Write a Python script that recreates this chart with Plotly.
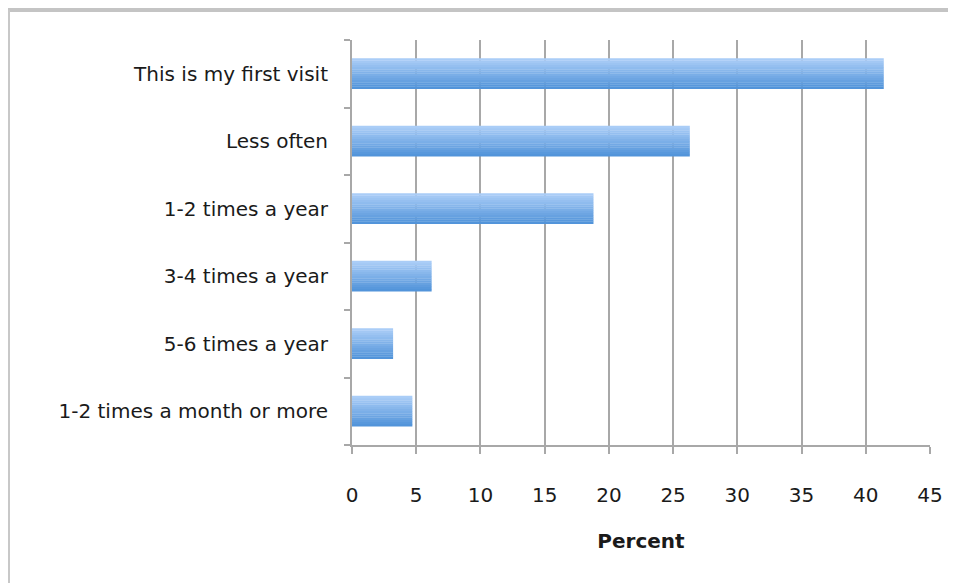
import plotly.graph_objects as go

# Data (bottom to top)
categories = ["1-2 times a month or more", "5-6 times a year", "3-4 times a year",
              "1-2 times a year", "Less often", "This is my first visit"]
percent = [4.7, 3.2, 6.2, 18.8, 26.3, 41.4]
x_ticks = [0, 5, 10, 15, 20, 25, 30, 35, 40, 45]

W, H = 948, 575
L, R, T, B = 344, 26, 32, 138
PW, PH = W - L - R, H - T - B

FONT = "DejaVu Sans, Open Sans, sans-serif"

fig = go.Figure()

# gradient bars built from thin horizontal strips
n = 14
bar_w = 0.45
top_c = (170, 205, 247)
bot_c = (82, 148, 218)
for i in range(n):
    f = i / (n - 1)  # 0 bottom, 1 top
    c = tuple(int(bot_c[k] + (top_c[k] - bot_c[k]) * f) for k in range(3))
    fig.add_trace(go.Bar(
        x=percent, y=categories, orientation="h",
        width=bar_w / n + 0.004, offset=-bar_w / 2 + i * bar_w / n,
        marker=dict(color="rgb(%d,%d,%d)" % c, line=dict(width=0)),
        showlegend=False, hoverinfo="x+y"))

def px_x(x):
    return (x - L) / PW

def px_y(y):
    return (H - B - y) / PH

fig.update_layout(
    width=W, height=H,
    margin=dict(l=L, r=R, t=T, b=B),
    paper_bgcolor="white", plot_bgcolor="white",
    barmode="overlay",
    font=dict(family=FONT, size=20, color="#1a1a1a"),
    xaxis=dict(range=[0, 45], tickvals=x_ticks, showgrid=True, gridcolor="#a8a8a8", gridwidth=2,
               showline=True, linecolor="#a8a8a8", linewidth=2, ticks="outside", ticklen=7,
               tickcolor="#a8a8a8", tickwidth=2, zeroline=False,
               tickfont=dict(size=20), ticklabelstandoff=24,
               title=dict(text="<b>Percent</b>", font=dict(size=20), standoff=28)),
    yaxis=dict(categoryorder="array", categoryarray=categories, showgrid=False,
               showline=True, linecolor="#a8a8a8", linewidth=2, ticks="outside", ticklen=6,
               tickcolor="#a8a8a8", tickwidth=2, tickson="boundaries",
               tickfont=dict(size=20), ticklabelstandoff=18),
    shapes=[
        dict(type="line", xref="paper", yref="paper",
             x0=px_x(0), x1=px_x(W), y0=px_y(2), y1=px_y(2),
             line=dict(color="#c4c4c4", width=4)),
        dict(type="line", xref="paper", yref="paper",
             x0=px_x(1), x1=px_x(1), y0=px_y(2), y1=px_y(H),
             line=dict(color="#c8c8c8", width=2)),
    ],
)

fig.write_html("out.html")
